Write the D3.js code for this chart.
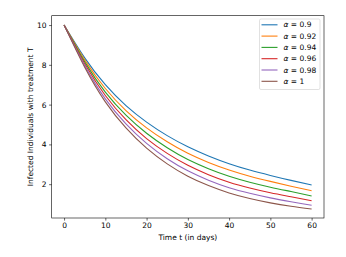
<!DOCTYPE html>
<html>
<head>
<meta charset="utf-8">
<script src="https://cdn.jsdelivr.net/npm/d3@7"></script>
<style>
  body { margin: 0; background: #fff; }
  svg { display: block; font-family: "DejaVu Sans", sans-serif; }
</style>
</head>
<body>
<div id="chart"></div>
<script>
// time points (days)
const days = [0, 5, 10, 15, 20, 25, 30, 35, 40, 45, 50, 55, 60];
// fractional order labels
const alphas = ["0.9", "0.92", "0.94", "0.96", "0.98", "1"];
// infected individuals with treatment, one list per alpha
const alpha090 = [10, 8.35, 7.00, 5.95, 5.12, 4.44, 3.88, 3.42, 3.03, 2.71, 2.44, 2.19, 1.96];
const alpha092 = [10, 8.25, 6.81, 5.70, 4.83, 4.13, 3.55, 3.09, 2.71, 2.40, 2.14, 1.90, 1.67];
const alpha094 = [10, 8.15, 6.63, 5.47, 4.56, 3.83, 3.24, 2.78, 2.40, 2.10, 1.85, 1.63, 1.41];
const alpha096 = [10, 8.05, 6.46, 5.24, 4.29, 3.55, 2.95, 2.48, 2.10, 1.81, 1.57, 1.37, 1.17];
const alpha098 = [10, 7.96, 6.29, 5.03, 4.05, 3.28, 2.67, 2.20, 1.82, 1.54, 1.31, 1.12, 0.94];
const alpha100 = [10, 7.88, 6.14, 4.83, 3.81, 3.02, 2.40, 1.93, 1.56, 1.28, 1.06, 0.89, 0.75];
const xTicks = [0, 10, 20, 30, 40, 50, 60];
const yTicks = [2, 4, 6, 8, 10];

const seriesValues = [alpha090, alpha092, alpha094, alpha096, alpha098, alpha100];
const colors = ["#1f77b4", "#ff7f0e", "#2ca02c", "#d62728", "#9467bd", "#8c564b"];

const width = 346, height = 257;
const margin = { left: 51.7, right: 22, top: 15.7, bottom: 39 };

const svg = d3.select("#chart").append("svg")
  .attr("width", width)
  .attr("height", height);

const x = d3.scaleLinear().domain([-3, 63]).range([margin.left, width - margin.right]);
const y = d3.scaleLinear().domain([0.3, 10.47]).range([height - margin.bottom, margin.top]);

// lines
const line = d3.line()
  .x(d => x(d[0]))
  .y(d => y(d[1]))
  .curve(d3.curveNatural);

const plot = svg.append("g");
seriesValues.forEach((vals, i) => {
  plot.append("path")
    .datum(days.map((t, j) => [t, vals[j]]))
    .attr("d", line)
    .attr("fill", "none")
    .attr("stroke", colors[i])
    .attr("stroke-width", 1.1);
});

// axes
const xAxis = svg.append("g")
  .attr("transform", `translate(0,${height - margin.bottom})`)
  .call(d3.axisBottom(x).tickValues(xTicks).tickSize(2.6).tickPadding(2.5).tickFormat(d3.format("d")));
const yAxis = svg.append("g")
  .attr("transform", `translate(${margin.left},0)`)
  .call(d3.axisLeft(y).tickValues(yTicks).tickSize(2.6).tickPadding(2.5).tickFormat(d3.format("d")));

[xAxis, yAxis].forEach(a => {
  a.select(".domain").remove();
  a.selectAll("line").attr("stroke", "#000").attr("stroke-width", 0.6);
  a.selectAll("text").attr("fill", "#000").style("font-size", "7.5px").style("font-family", "DejaVu Sans");
});

// frame
svg.append("rect")
  .attr("x", margin.left)
  .attr("y", margin.top)
  .attr("width", width - margin.right - margin.left)
  .attr("height", height - margin.bottom - margin.top)
  .attr("fill", "none")
  .attr("stroke", "#000")
  .attr("stroke-width", 0.6);

// axis labels
svg.append("text")
  .attr("x", (margin.left + width - margin.right) / 2)
  .attr("y", 240)
  .attr("text-anchor", "middle")
  .style("font-size", "7.5px")
  .text("Time t (in days)");

svg.append("text")
  .attr("transform", `translate(32.5,${(margin.top + height - margin.bottom) / 2}) rotate(-90)`)
  .attr("text-anchor", "middle")
  .style("font-size", "7.5px")
  .text("Infected Individuals with treatment T");

// legend
const legend = svg.append("g").attr("transform", "translate(259.5,19)");
legend.append("rect")
  .attr("width", 60.5)
  .attr("height", 70.5)
  .attr("rx", 1.5)
  .attr("fill", "#fff")
  .attr("fill-opacity", 0.8)
  .attr("stroke", "#ccc")
  .attr("stroke-width", 0.6);

alphas.forEach((a, i) => {
  const row = legend.append("g").attr("transform", `translate(0,${5.8 + i * 11.3})`);
  row.append("line")
    .attr("x1", 2)
    .attr("x2", 18)
    .attr("stroke", colors[i])
    .attr("stroke-width", 1.1);
  const t = row.append("text")
    .attr("x", 24)
    .attr("dy", "0.35em")
    .style("font-size", "7.5px");
  t.append("tspan").style("font-style", "italic").text("α");
  t.append("tspan").text(" = " + a);
});
</script>
</body>
</html>
